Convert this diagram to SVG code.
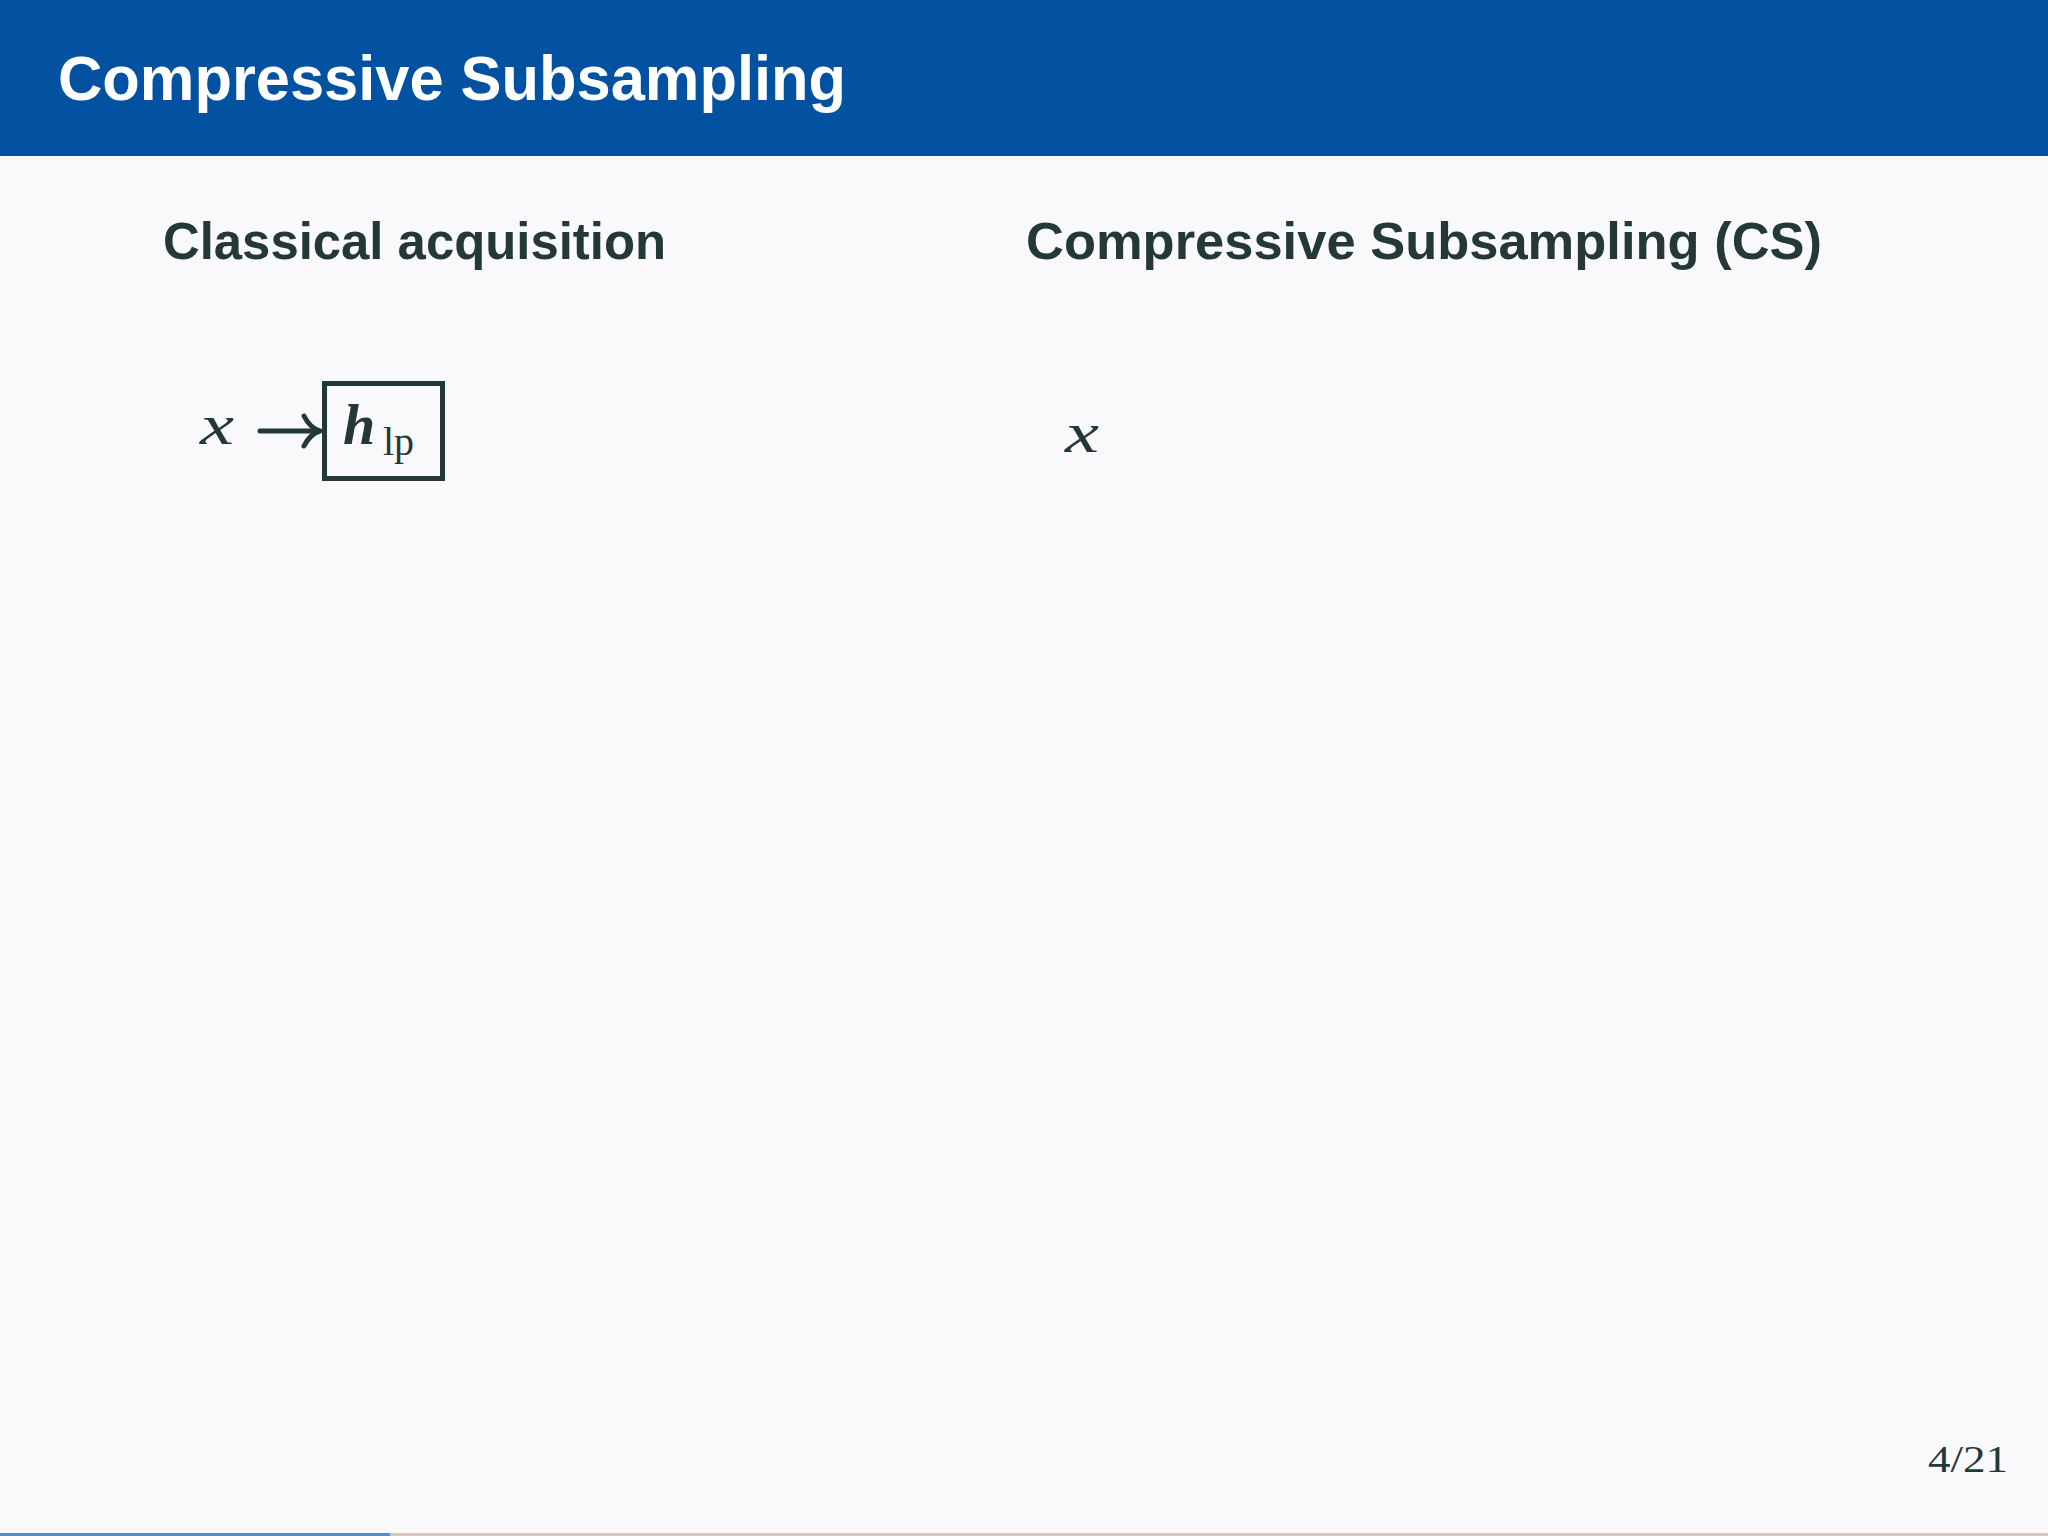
<svg xmlns="http://www.w3.org/2000/svg" width="2048" height="1536" viewBox="0 0 2048 1536">
  <style>
    .title { font-family: "Liberation Sans", Arial, sans-serif; font-weight: bold; font-size: 63px; fill: #ffffff; }
    .sub { font-family: "Liberation Sans", Arial, sans-serif; font-weight: bold; font-size: 52px; fill: #243838; }
    .math { font-family: "Liberation Serif", "Times New Roman", serif; font-style: italic; font-size: 57px; fill: #243838; }
    .mathb { font-family: "Liberation Serif", "Times New Roman", serif; font-style: italic; font-weight: bold; font-size: 58px; fill: #243838; }
    .rm { font-family: "Liberation Serif", "Times New Roman", serif; font-size: 40px; fill: #243838; }
    .page { font-family: "Liberation Serif", "Times New Roman", serif; font-size: 38px; fill: #243838; }
    .box { fill: none; stroke: #243838; stroke-width: 5; }
    .conn { fill: none; stroke: #243838; stroke-width: 5; stroke-linecap: round; stroke-linejoin: round; }
  </style>
  <rect x="0" y="0" width="2048" height="1536" fill="#F9F9FB"/>
  <g id="header">
    <rect x="0" y="0" width="2048" height="156" fill="#0352A2"/>
    <text class="title" x="58" y="100" textLength="788" lengthAdjust="spacingAndGlyphs">Compressive Subsampling</text>
  </g>
  <g id="heading-classical">
    <text class="sub" x="163" y="259" textLength="503" lengthAdjust="spacingAndGlyphs">Classical acquisition</text>
  </g>
  <g id="heading-cs">
    <text class="sub" x="1026" y="259" textLength="796" lengthAdjust="spacingAndGlyphs">Compressive Subsampling (CS)</text>
  </g>
  <g id="node-x-left">
    <text class="math" x="200" y="444" textLength="34" lengthAdjust="spacingAndGlyphs">x</text>
  </g>
  <g id="node-hlp">
    <rect class="box" x="324.5" y="383.5" width="118" height="95"/>
    <text class="mathb" x="343" y="444">h</text>
    <text class="rm" x="383" y="455">lp</text>
  </g>
  <g id="node-x-right">
    <text class="math" x="1065" y="452" textLength="34" lengthAdjust="spacingAndGlyphs">x</text>
  </g>
  <g id="connectors">
    <path class="conn" d="M260 431 H318"/>
    <path class="conn" d="M304 416 Q310 428 320 431 Q310 434 304 446"/>
  </g>
  <g id="footer">
    <text class="page" x="1928" y="1472" textLength="80" lengthAdjust="spacingAndGlyphs">4/21</text>
    <rect x="0" y="1533" width="390" height="3" fill="#4A8FD8"/>
    <rect x="390" y="1533" width="1658" height="3" fill="#D6C6BE"/>
  </g>
</svg>
